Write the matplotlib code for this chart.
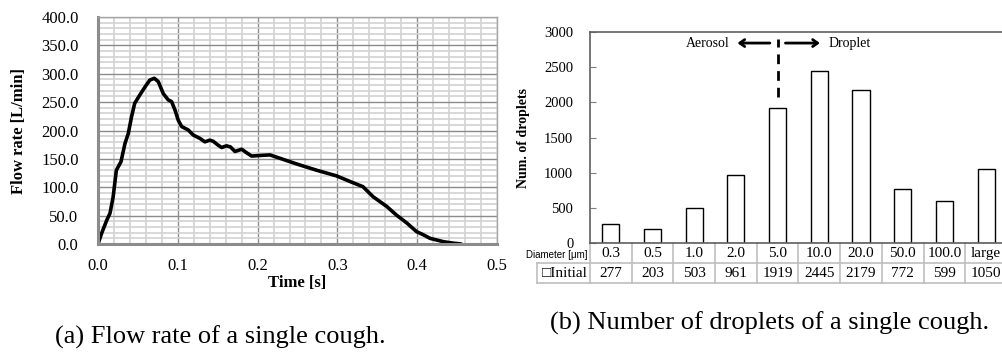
import numpy as np
from matplotlib import pyplot as plt
from matplotlib.ticker import MultipleLocator
from matplotlib.lines import Line2D
from matplotlib.transforms import ScaledTranslation

plt.rcParams['font.family'] = ['Liberation Serif', 'DejaVu Sans']

# (a) flow rate of a single cough
time_s = [0.0, 0.0046, 0.011, 0.015, 0.019, 0.023, 0.0288, 0.0338, 0.038, 0.042,
          0.046, 0.0526, 0.059, 0.065, 0.0706, 0.0756, 0.0818, 0.088, 0.0922,
          0.0965, 0.1006, 0.1048, 0.113, 0.1194, 0.1278, 0.134, 0.140, 0.1444,
          0.1507, 0.155, 0.161, 0.166, 0.1717, 0.180, 0.186, 0.1925, 0.203,
          0.2155, 0.249, 0.274, 0.299, 0.316, 0.332, 0.345, 0.362, 0.374,
          0.387, 0.399, 0.408, 0.416, 0.433, 0.445, 0.455]
flow_rate = [0, 19, 42, 54, 83, 130, 145, 177, 195, 224,
             248, 263, 277, 289, 292, 286, 265, 254, 251,
             236, 218, 207, 201, 192, 186, 180, 183, 181,
             174, 170, 173, 171, 163, 167, 161, 155, 156,
             157, 141, 130, 120, 110, 101, 83, 66, 51,
             37, 22, 16, 10, 4, 1.5, 0]

# (b) number of droplets per diameter class
diameters = ['0.3', '0.5', '1.0', '2.0', '5.0', '10.0', '20.0', '50.0', '100.0', 'large']
droplets = [277, 203, 503, 961, 1919, 2445, 2179, 772, 599, 1050]

fig = plt.figure(figsize=(10.02, 3.53), dpi=100)

# ---- left: flow rate ----
ax1 = fig.add_axes([0.0978, 0.3088, 0.3982, 0.643])
ax1.plot(time_s, flow_rate, color='black', lw=2.6, solid_joinstyle='round', solid_capstyle='round')
ax1.set_xlim(0, 0.5)
ax1.set_ylim(0, 400)
ax1.xaxis.set_major_locator(MultipleLocator(0.1))
ax1.xaxis.set_minor_locator(MultipleLocator(0.02))
ax1.yaxis.set_major_locator(MultipleLocator(50))
ax1.yaxis.set_minor_locator(MultipleLocator(10))
ax1.grid(which='major', color='#8c8c8c', lw=1.0)
ax1.grid(which='minor', color='#d2d2d2', lw=1.2)
ax1.set_axisbelow(True)
ax1.xaxis.set_major_formatter(lambda v, p: f'{v:.1f}')
ax1.yaxis.set_major_formatter(lambda v, p: f'{v:.1f}')
ax1.tick_params(which='both', length=0, labelsize=12)
ax1.tick_params(axis='y', pad=14)
ax1.tick_params(axis='x', pad=10)
for side in ['left', 'bottom']:
    ax1.spines[side].set_color('#8c8c8c')
    ax1.spines[side].set_linewidth(2.2)
for side in ['top', 'right']:
    ax1.spines[side].set_color('#a6a6a6')
    ax1.spines[side].set_linewidth(1.0)
ax1.set_xlabel('Time [s]', fontsize=12, fontweight='bold', labelpad=1)
ax1.set_ylabel('Flow rate [L/min]', fontsize=12, fontweight='bold', labelpad=10)

# ---- right: droplet counts ----
ax2 = fig.add_axes([0.5888, 0.3116, 0.4162, 0.5977])
x = np.arange(len(diameters)) + 0.5
ax2.bar(x, droplets, width=0.41, facecolor='white', edgecolor='black', lw=1.0)
ax2.set_xlim(0, len(diameters))
ax2.set_ylim(0, 3000)
ax2.yaxis.set_major_locator(MultipleLocator(500))
ax2.set_xticks([])
ax2.tick_params(axis='y', direction='in', length=4, color='#7f7f7f', labelsize=10.5, pad=12)
for s in ax2.spines.values():
    s.set_color('#5f5f5f')
    s.set_linewidth(1.2)
ax2.set_ylabel('Num. of droplets', fontsize=10, fontweight='bold', labelpad=10)

# aerosol / droplet divider
split = 4.5
ax2.plot([split, split], [2080, 2900], color='black', lw=2, ls=(0, (3.5, 2.5)))
ax2.annotate('', xy=(3.47, 2843), xytext=(4.38, 2843),
             arrowprops=dict(arrowstyle='->,head_length=0.35,head_width=0.25', lw=2, color='black'))
ax2.annotate('', xy=(5.58, 2843), xytext=(4.62, 2843),
             arrowprops=dict(arrowstyle='->,head_length=0.35,head_width=0.25', lw=2, color='black'))
ax2.text(3.36, 2843, 'Aerosol', ha='right', va='center', fontsize=10)
ax2.text(5.72, 2843, 'Droplet', ha='left', va='center', fontsize=10)

# data table below the bars
tr = ax2.get_xaxis_transform()
row_h = 20 / 211
grid_c = '#bfbfbf'
n = len(diameters)
for i in range(n + 1):
    ax2.add_line(Line2D([i, i], [0, -2 * row_h], transform=tr, color=grid_c, lw=1.2, clip_on=False))
lab_left = -1.27
ax2.add_line(Line2D([0, n], [-row_h, -row_h], transform=tr, color=grid_c, lw=1.2, clip_on=False))
ax2.add_line(Line2D([lab_left, 0], [-row_h, -row_h], transform=tr, color=grid_c, lw=1.2, clip_on=False))
ax2.add_line(Line2D([lab_left, n], [-2 * row_h, -2 * row_h], transform=tr, color=grid_c, lw=1.2, clip_on=False))
ax2.add_line(Line2D([lab_left, lab_left], [-row_h, -2 * row_h], transform=tr, color=grid_c, lw=1.2, clip_on=False))
for xi, d, c in zip(x, diameters, droplets):
    ax2.text(xi, -0.5 * row_h, d, transform=tr, ha='center', va='center', fontsize=11)
    ax2.text(xi, -1.5 * row_h, str(c), transform=tr, ha='center', va='center', fontsize=11)
ax2.text(-0.05, -0.62 * row_h, 'Diameter [μm]', transform=tr, ha='right', va='center',
         fontsize=7, family=['Liberation Sans', 'DejaVu Sans'])
ax2.text(-0.05, -1.5 * row_h, '□Initial', transform=tr, ha='right', va='center', fontsize=11)

# the "0" tick sits a little above the table row, as in the source
fig.canvas.draw()
zero_lab = ax2.yaxis.get_majorticklabels()[0]
zero_lab.set_transform(zero_lab.get_transform() + ScaledTranslation(0, 3 / 72, fig.dpi_scale_trans))

# captions
fig.text(0.22, 0.012, '(a) Flow rate of a single cough.', ha='center', va='bottom', fontsize=19)
fig.text(0.768, 0.05, '(b) Number of droplets of a single cough.', ha='center', va='bottom', fontsize=19)

fig.savefig('out.png', dpi=100)
